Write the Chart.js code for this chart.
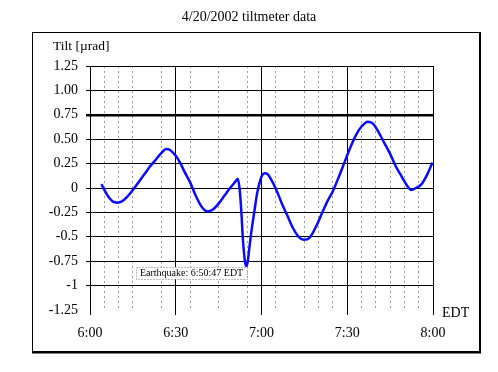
<!DOCTYPE html>
<html>
<head>
<meta charset="utf-8">
<script src="https://cdn.jsdelivr.net/npm/chart.js@4/dist/chart.umd.min.js"></script>
<style>
  body { margin: 0; background: #fff; }
</style>
</head>
<body>
<canvas id="tiltChart" width="498" height="372"></canvas>
<script>
// minutes after 6:00 EDT and tilt in microradians
const minutes = [4, 5, 6, 7, 8, 9.5, 11, 13, 15, 17, 19, 21, 23, 25, 26.7, 28, 30, 31.5, 33, 35,
  37, 39, 41, 43, 45, 47, 49, 51, 51.7, 52.3, 52.9, 53.5, 54.2, 54.7, 55.2, 55.8, 56.4, 57.6, 58.5, 59.2,
  60.2, 61.1, 62.2, 63.5, 65.2, 67, 69, 71, 73, 74.8, 76.8, 79, 81, 83, 85, 87, 89, 91, 93, 95,
  97.2, 99, 101, 103, 105, 107, 109, 111, 112.4, 114, 116, 118, 119.8];
const tilt = [0.04, -0.02, -0.07, -0.11, -0.14, -0.15, -0.14, -0.09, -0.02, 0.06, 0.14, 0.22, 0.29, 0.36, 0.40, 0.39, 0.33, 0.26, 0.17, 0.06,
  -0.08, -0.19, -0.24, -0.22, -0.16, -0.08, 0.00, 0.07, 0.095, 0.0, -0.22, -0.53, -0.75, -0.80, -0.75, -0.60, -0.46, -0.22, -0.05, 0.04,
  0.13, 0.15, 0.14, 0.08, -0.02, -0.15, -0.28, -0.41, -0.50, -0.53, -0.51, -0.40, -0.27, -0.14, -0.03, 0.11, 0.26, 0.41, 0.54, 0.63,
  0.68, 0.66, 0.57, 0.46, 0.35, 0.22, 0.12, 0.02, -0.02, 0.00, 0.04, 0.14, 0.26];

const majorMinutes = [0, 30, 60, 90, 120];
const xTickLabels = ["6:00", "6:30", "7:00", "7:30", "8:00"];
const minorMinutes = [5, 10, 15, 25, 35, 45, 55, 65, 75, 80, 85, 95, 100, 105, 110, 115];
const yTicks = [-1.25, -1, -0.75, -0.5, -0.25, 0, 0.25, 0.5, 0.75, 1, 1.25];
const yTickLabels = ["-1.25", "-1", "-0.75", "-0.5", "-0.25", "0", "0.25", "0.50", "0.75", "1.00", "1.25"];
const titleText = "4/20/2002 tiltmeter data";
const quakeText = "Earthquake: 6:50:47 EDT";

Chart.defaults.font.family = "'Liberation Serif', 'DejaVu Serif', serif";
Chart.defaults.color = "#000";

const isMajor = (v) => majorMinutes.includes(v);

// title, frame, axis captions and the earthquake note
const extras = {
  id: "extras",
  afterDraw(chart) {
    const ctx = chart.ctx;
    const area = chart.chartArea;
    const xs = chart.scales.x;
    const ys = chart.scales.y;
    ctx.save();
    ctx.strokeStyle = "#000";
    ctx.lineWidth = 1;
    ctx.strokeRect(32.5, 32.5, 447, 319);
    ctx.lineWidth = 2;
    ctx.beginPath();
    ctx.moveTo(480, 32);
    ctx.lineTo(480, 353);
    ctx.moveTo(32, 352.5);
    ctx.lineTo(481, 352.5);
    ctx.stroke();

    ctx.fillStyle = "#000";
    ctx.textBaseline = "middle";
    ctx.textAlign = "center";
    ctx.font = "14px 'Liberation Serif'";
    ctx.fillText(titleText, chart.width / 2, 17);

    ctx.textAlign = "left";
    ctx.font = "13.5px 'Liberation Serif'";
    ctx.fillText("Tilt [\u00b5rad]", area.left - 37, area.top - 20);
    ctx.font = "14px 'Liberation Serif'";
    ctx.fillText("EDT", area.right + 9, area.bottom + 3);

    // note box anchored near 6:55 / -0.81
    ctx.font = "10px 'Liberation Serif'";
    const tw = ctx.measureText(quakeText).width;
    const right = xs.getPixelForValue(55);
    const top = ys.getPixelForValue(-0.81);
    const w = tw + 8, h = 12;
    ctx.fillStyle = "#fff";
    ctx.fillRect(right - w, top, w, h);
    ctx.setLineDash([1, 2]);
    ctx.strokeStyle = "#777";
    ctx.lineWidth = 1;
    ctx.strokeRect(Math.round(right - w) + 0.5, Math.round(top) + 0.5, Math.round(w), h);
    ctx.setLineDash([]);
    ctx.fillStyle = "#000";
    ctx.textAlign = "center";
    ctx.fillText(quakeText, right - w / 2, top + h / 2 + 0.5);
    ctx.restore();
  }
};

new Chart(document.getElementById("tiltChart"), {
  type: "line",
  data: {
    datasets: [{
      data: minutes.map((m, i) => ({ x: m, y: tilt[i] })),
      borderColor: "#0a0aff",
      borderWidth: 2.5,
      pointRadius: 0,
      fill: false,
      cubicInterpolationMode: "monotone"
    }]
  },
  options: {
    responsive: false,
    animation: false,
    layout: { padding: { top: 66, left: 0, right: 65, bottom: 0 } },
    plugins: {
      legend: { display: false },
      tooltip: { enabled: false },
      title: { display: false }
    },
    scales: {
      x: {
        type: "linear",
        min: 0,
        max: 120,
        afterBuildTicks: (scale) => {
          scale.ticks = majorMinutes.concat(minorMinutes).sort((a, b) => a - b).map(v => ({ value: v }));
        },
        afterFit: (scale) => { scale.height = 62; },
        ticks: {
          autoSkip: false,
          maxRotation: 0,
          padding: 10,
          font: { size: 14 },
          callback: (v) => isMajor(v) ? xTickLabels[majorMinutes.indexOf(v)] : ""
        },
        grid: {
          color: (c) => isMajor(c.tick.value) ? "#000" : "#999",
          lineWidth: 1,
          tickLength: 5,
          tickColor: (c) => isMajor(c.tick.value) ? "#000" : "rgba(0,0,0,0)"
        },
        border: {
          display: false,
          dash: (c) => (c.tick && !isMajor(c.tick.value)) ? [2, 3] : []
        }
      },
      y: {
        min: -1.25,
        max: 1.25,
        afterBuildTicks: (scale) => {
          scale.ticks = yTicks.map(v => ({ value: v }));
        },
        afterFit: (scale) => { scale.width = 90; },
        ticks: {
          padding: 8,
          font: { size: 14 },
          callback: (v) => yTickLabels[yTicks.indexOf(v)]
        },
        grid: {
          color: (c) => c.tick.value === -1.25 ? "rgba(0,0,0,0)" : "#000",
          lineWidth: (c) => c.tick.value === 0.75 ? 2.5 : 1,
          tickLength: 4
        },
        border: { display: true, color: "#000", width: 1 }
      }
    }
  },
  plugins: [extras]
});
</script>
</body>
</html>
